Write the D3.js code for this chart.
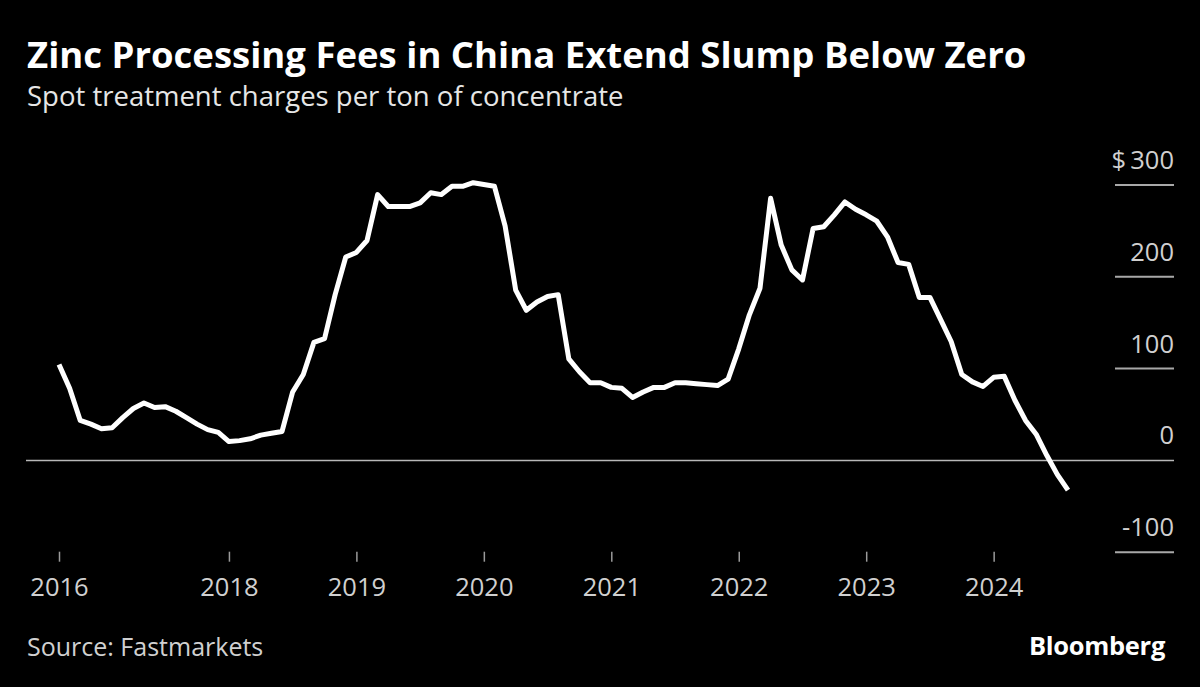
<!DOCTYPE html>
<html>
<head>
<meta charset="utf-8">
<script src="https://cdn.jsdelivr.net/npm/d3@7"></script>
<style>
  html, body { margin: 0; padding: 0; background: #000; }
  svg { display: block; font-family: "Open Sans", "DejaVu Sans", sans-serif; }
</style>
</head>
<body>
<svg id="chart" width="1200" height="687"></svg>
<script>
// ---- Data ----
const dates = [
  "2016-01-01","2016-02-15","2016-04-01","2016-05-15","2016-07-01","2016-08-15","2016-10-01","2016-11-15",
  "2017-01-01","2017-02-15","2017-04-01","2017-05-15","2017-07-01","2017-08-15","2017-10-01","2017-11-15",
  "2018-01-01","2018-02-01","2018-03-01","2018-04-01","2018-05-01","2018-06-01","2018-07-01","2018-08-01","2018-09-01","2018-10-01","2018-11-01","2018-12-01",
  "2019-01-01","2019-02-01","2019-03-01","2019-04-01","2019-05-01","2019-06-01","2019-07-01","2019-08-01","2019-09-01","2019-10-01","2019-11-01","2019-12-01",
  "2020-01-01","2020-02-01","2020-03-01","2020-04-01","2020-05-01","2020-06-01","2020-07-01","2020-08-01","2020-09-01","2020-10-01","2020-11-01","2020-12-01",
  "2021-01-01","2021-02-01","2021-03-01","2021-04-01","2021-05-01","2021-06-01","2021-07-01","2021-08-01","2021-09-01","2021-10-01","2021-11-01","2021-12-01",
  "2022-01-01","2022-02-01","2022-03-01","2022-04-01","2022-05-01","2022-06-01","2022-07-01","2022-08-01","2022-09-01","2022-10-01","2022-11-01","2022-12-01",
  "2023-01-01","2023-02-01","2023-03-01","2023-04-01","2023-05-01","2023-06-01","2023-07-01","2023-08-01","2023-09-01","2023-10-01","2023-11-01","2023-12-01",
  "2024-01-01","2024-02-01","2024-03-01","2024-04-01","2024-05-01","2024-06-01","2024-07-01","2024-08-01"
];
const values = [
  104, 78, 43, 39, 34, 35, 46, 56,
  62, 57, 58, 53, 46, 39, 33, 30,
  20, 21, 23, 27, 29, 31, 74, 93, 128, 132, 180, 221,
  226, 239, 289, 276, 276, 276, 280, 291, 289, 298, 298, 302,
  300, 298, 255, 185, 163, 172, 178, 180, 110, 96, 84, 84,
  79, 78, 68, 74, 79, 79, 84, 84, 83, 82, 81, 88,
  121, 158, 187, 285, 234, 207, 196, 252, 254, 267, 281, 273,
  267, 260, 243, 215, 213, 177, 177, 153, 129, 93, 85, 80,
  90, 91, 65, 43, 28, 5, -16, -33
];
const yTicks = [-100, 0, 100, 200, 300];
const xTickYears = ["2016", "2018", "2019", "2020", "2021", "2022", "2023", "2024"];

const titleText = "Zinc Processing Fees in China Extend Slump Below Zero";
const subtitleText = "Spot treatment charges per ton of concentrate";
const sourceText = "Source: Fastmarkets";
const brandText = "Bloomberg";

// ---- Layout ----
const W = 1200, H = 687;
const plot = { left: 59, right: 1068, top: 184.5, bottom: 551.7 };
const gridRight = 1174, gridShortLeft = 1115, zeroLeft = 26;

const svg = d3.select("#chart");
svg.append("rect").attr("width", W).attr("height", H).attr("fill", "#000");

const x = d3.scalePoint().domain(dates).range([plot.left, plot.right]);
const y = d3.scaleLinear().domain([-100, 300]).range([plot.bottom, plot.top]);

// Titles
svg.append("text").attr("x", 27).attr("y", 68)
  .attr("fill", "#fff").attr("font-size", 36.5).attr("font-weight", 700)
  .text(titleText);
svg.append("text").attr("x", 27).attr("y", 106)
  .attr("fill", "#e6e6e6").attr("font-size", 27.5)
  .text(subtitleText);

// Y axis: gridlines + labels on right
const yAxis = d3.axisRight(y).tickValues(yTicks).tickSize(0)
  .tickFormat(d => d === 300 ? "$\u2009300" : String(d));
const gy = svg.append("g").attr("transform", `translate(${gridRight},0)`).call(yAxis);
gy.select(".domain").remove();
gy.selectAll(".tick text")
  .attr("x", 0).attr("dy", -16).attr("text-anchor", "end")
  .attr("fill", "#d0d0d0").attr("font-size", 25.5).attr("font-family", "Open Sans, sans-serif");
gy.selectAll(".tick").append("line")
  .attr("x1", d => d === 0 ? zeroLeft - gridRight : gridShortLeft - gridRight)
  .attr("x2", 0).attr("y1", 0).attr("y2", 0)
  .attr("stroke", d => d === 0 ? "#b8b8b8" : "#a8a8a8")
  .attr("stroke-width", d => d === 0 ? 1.5 : 2);

// X axis
const tickDates = xTickYears.map(yr => dates.find(d => d.startsWith(yr)));
const xAxis = d3.axisBottom(x).tickValues(tickDates).tickSize(10).tickPadding(16)
  .tickFormat(d => d.slice(0, 4));
const gx = svg.append("g").attr("transform", `translate(0,${plot.bottom})`).call(xAxis);
gx.select(".domain").remove();
gx.selectAll(".tick line").attr("stroke", "#9a9a9a").attr("stroke-width", 1.5);
gx.selectAll(".tick text").attr("fill", "#d0d0d0").attr("font-size", 25.5)
  .attr("font-family", "Open Sans, sans-serif");

// Line
const series = dates.map((d, i) => ({ d, v: values[i] }));
const line = d3.line().x(p => x(p.d)).y(p => y(p.v));
svg.append("path").datum(series)
  .attr("d", line).attr("fill", "none")
  .attr("stroke", "#fff").attr("stroke-width", 5)
  .attr("stroke-linejoin", "round").attr("stroke-linecap", "butt");

// Footer
svg.append("text").attr("x", 27).attr("y", 656)
  .attr("fill", "#d0d0d0").attr("font-size", 25)
  .text(sourceText);
svg.append("text").attr("x", 1165).attr("y", 655).attr("text-anchor", "end")
  .attr("fill", "#fff").attr("font-size", 25.5).attr("font-weight", 700)
  .attr("letter-spacing", -0.3)
  .text(brandText);
</script>
</body>
</html>
